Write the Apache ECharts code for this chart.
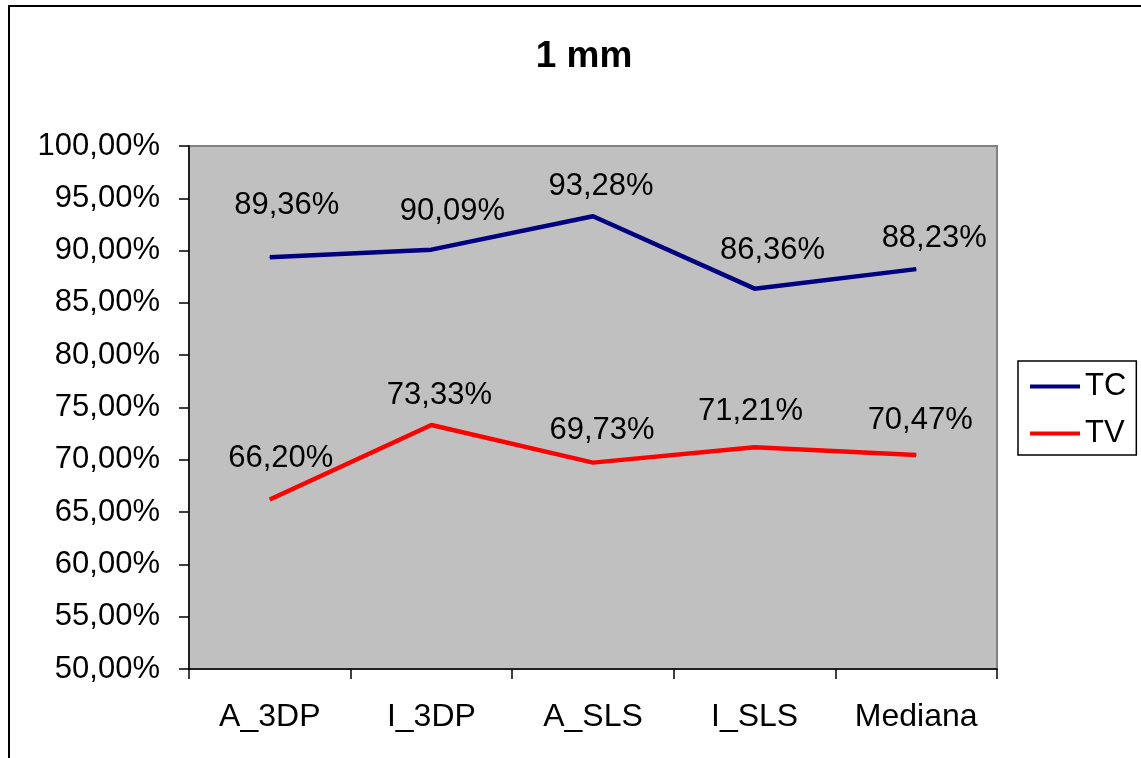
<!DOCTYPE html>
<html>
<head>
<meta charset="utf-8">
<script src="https://cdn.jsdelivr.net/npm/echarts@6/dist/echarts.min.js"></script>
<style>
  html, body { margin: 0; padding: 0; background: #fff; }
  #chart { width: 1141px; height: 758px; }
</style>
</head>
<body>
<div id="chart"></div>
<script>
// Categories and measured percentages
const categories = ['A_3DP', 'I_3DP', 'A_SLS', 'I_SLS', 'Mediana'];
const tcValues = [89.36, 90.09, 93.28, 86.36, 88.23];
const tvValues = [66.20, 73.33, 69.73, 71.21, 70.47];

// Where each value label sits relative to its point (centre offset, px)
const tcLabelOffsets = [[17, -52], [21, -38], [8, -30], [18, -38], [18, -31]];
const tvLabelOffsets = [[11, -41], [8, -30], [9, -32], [-4, -36], [4, -34]];

const FONT = '"Liberation Sans", Arial, sans-serif';
const fmt = v => v.toFixed(2).replace('.', ',') + '%';

function withLabels(values, offsets) {
  return values.map((v, i) => ({
    value: v,
    label: { offset: offsets[i] }
  }));
}

function lineSeries(name, color, values, offsets) {
  return {
    name: name,
    type: 'line',
    data: withLabels(values, offsets),
    symbol: 'circle',
    symbolSize: 1,
    showSymbol: true,
    lineStyle: { color: color, width: 4.5 },
    itemStyle: { color: color },
    label: {
      show: true,
      position: 'inside',
      formatter: p => fmt(p.value),
      color: '#000',
      fontFamily: FONT,
      fontSize: 31
    },
    emphasis: { disabled: true },
    animation: false
  };
}

const chart = echarts.init(document.getElementById('chart'));
chart.setOption({
  backgroundColor: '#fff',
  animation: false,
  title: {
    text: '1 mm',
    left: 579,
    top: 33,
    textAlign: 'center',
    textStyle: { fontFamily: FONT, fontSize: 37, fontWeight: 'bold', color: '#000' }
  },
  graphic: [{
    type: 'rect',
    shape: { x: 9, y: 6, width: 1300, height: 900 },
    style: { fill: 'none', stroke: '#000', lineWidth: 2 },
    silent: true
  }],
  legend: {
    orient: 'vertical',
    left: 1018,
    top: 361,
    data: ['TC', 'TV'],
    icon: 'rect',
    itemWidth: 50,
    itemHeight: 4,
    itemGap: 16,
    padding: [10, 10, 6, 12],
    backgroundColor: '#fff',
    borderColor: '#000',
    borderWidth: 1.5,
    borderRadius: 0,
    textStyle: { fontFamily: FONT, fontSize: 31, color: '#000' },
    selectedMode: false
  },
  grid: {
    left: 189, top: 146, right: 144, bottom: 89,
    show: true,
    backgroundColor: '#c0c0c0',
    borderColor: '#808080',
    borderWidth: 2
  },
  xAxis: {
    type: 'category',
    data: categories,
    boundaryGap: true,
    axisLine: { lineStyle: { color: '#000', width: 1.5 } },
    axisTick: { show: true, length: 10, inside: false, lineStyle: { color: '#000', width: 1.5 } },
    axisLabel: { color: '#000', fontFamily: FONT, fontSize: 32, margin: 32 },
    splitLine: { show: false }
  },
  yAxis: {
    type: 'value',
    min: 50,
    max: 100,
    interval: 5,
    axisLine: { show: true, lineStyle: { color: '#000', width: 1.5 } },
    axisTick: { show: true, length: 10, inside: false, lineStyle: { color: '#000', width: 1.5 } },
    axisLabel: { color: '#000', fontFamily: FONT, fontSize: 31, margin: 29, formatter: v => fmt(v) },
    splitLine: { show: false }
  },
  series: [
    lineSeries('TC', '#000080', tcValues, tcLabelOffsets),
    lineSeries('TV', '#ff0000', tvValues, tvLabelOffsets)
  ]
});
</script>
</body>
</html>
